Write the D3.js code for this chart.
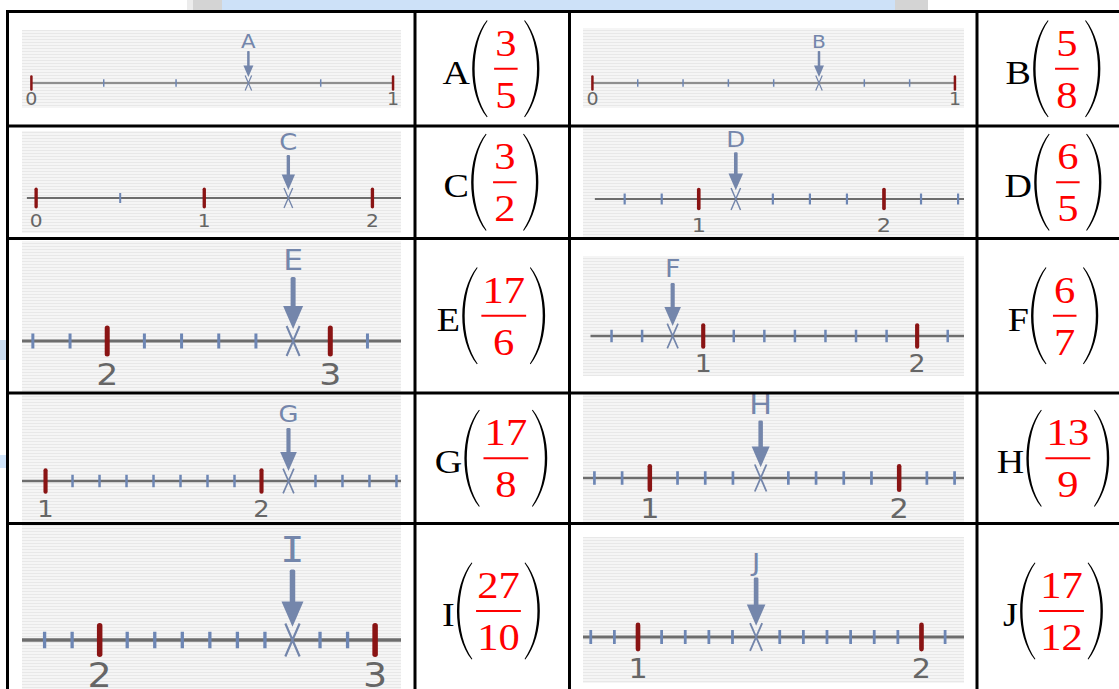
<!DOCTYPE html>
<html>
<head>
<meta charset="utf-8">
<script src="https://cdn.jsdelivr.net/npm/d3@7"></script>
<style>
  body { margin: 0; background: #fff; }
  svg { display: block; }
</style>
</head>
<body>
<div id="chart"></div>
<script>
// points to locate, as fractions
const letters = ["A", "B", "C", "D", "E", "F", "G", "H", "I", "J"];
const numerators = [3, 5, 3, 6, 17, 6, 17, 13, 27, 17];
const denominators = [5, 8, 2, 5, 6, 7, 8, 9, 10, 12];

// visible window of each number line (value at left / right edge of its picture)
const viewFrom = [-0.026, -0.026, -0.084, 0.375, 1.618, 0.438, 0.891, 0.732, 1.718, 0.806];
const viewTo = [1.022, 1.025, 2.170, 2.432, 3.317, 2.219, 2.646, 2.260, 3.094, 2.150];
// where the drawn line starts / ends
const lineFrom = [0, 0, -0.055, 0.439, 1.618, 0.473, 0.891, 0.732, 1.718, 0.806];
const lineTo = [1, 1, 2.170, 2.432, 3.317, 2.219, 2.646, 2.260, 3.094, 2.150];

// layout of each picture inside the table
const panelBox = [
  {x0: 22, x1: 401, y0: 30, y1: 108, lineY: 83, k: 0.5, fsL: 19, fsN: 17, nDy: 22},
  {x0: 583, x1: 964, y0: 28, y1: 108, lineY: 83, k: 0.5, fsL: 18, fsN: 17, nDy: 22},
  {x0: 22, x1: 401, y0: 131, y1: 233, lineY: 198, k: 0.67, fsL: 23, fsN: 18, nDy: 29},
  {x0: 583, x1: 964, y0: 127, y1: 237, lineY: 199, k: 0.73, fsL: 22, fsN: 20, nDy: 33},
  {x0: 22, x1: 401, y0: 241, y1: 392, lineY: 341, k: 1.0, fsL: 28, fsN: 31, nDy: 44},
  {x0: 583, x1: 964, y0: 256, y1: 376, lineY: 336, k: 0.83, fsL: 24, fsN: 24, nDy: 36},
  {x0: 22, x1: 401, y0: 395, y1: 522, lineY: 481, k: 0.83, fsL: 23, fsN: 23, nDy: 36},
  {x0: 583, x1: 964, y0: 394, y1: 522, lineY: 478, k: 0.9, fsL: 27, fsN: 27, nDy: 40},
  {x0: 22, x1: 401, y0: 525, y1: 689, lineY: 640, k: 1.1, fsL: 36, fsN: 34, nDy: 47},
  {x0: 583, x1: 964, y0: 537, y1: 683, lineY: 637, k: 0.93, fsL: 25, fsN: 27, nDy: 41}
];

const colLines = [7.5, 415, 569.5, 977, 1129];
const rowLines = [11.5, 126, 238.5, 393, 523.5, 698.5];
const answerCenters = [491, 1053];

const W = 1119, H = 689;
const SX = 1.12; // the scan is a little wider than tall

const svg = d3.select("#chart").append("svg")
  .attr("width", W)
  .attr("height", H);

const defs = svg.append("defs");
const pat = defs.append("pattern")
  .attr("id", "stripes")
  .attr("patternUnits", "userSpaceOnUse")
  .attr("width", 8)
  .attr("height", 3);
pat.append("rect").attr("width", 8).attr("height", 3).attr("fill", "#f5f5f5");
pat.append("rect").attr("width", 8).attr("height", 1).attr("fill", "#e8e8e8");

svg.append("rect").attr("width", W).attr("height", H).attr("fill", "#fff");

// bits of the page behind the table
svg.append("rect").attr("x", 187).attr("y", 0).attr("width", 6).attr("height", 10).attr("fill", "#ececec");
svg.append("rect").attr("x", 193).attr("y", 0).attr("width", 29).attr("height", 10).attr("fill", "#d4d4d4");
svg.append("rect").attr("x", 222).attr("y", 0).attr("width", 673).attr("height", 10).attr("fill", "#cde1f8");
svg.append("rect").attr("x", 895).attr("y", 0).attr("width", 33).attr("height", 10).attr("fill", "#d4d4d4");
svg.append("rect").attr("x", 0).attr("y", 340).attr("width", 6).attr("height", 20).attr("fill", "#c9dcf1");
svg.append("rect").attr("x", 0).attr("y", 455).attr("width", 6).attr("height", 13).attr("fill", "#d0e4fa");

const blue = "#7486ab";

letters.forEach((letter, i) => {
  const b = panelBox[i];
  const k = b.k;
  const den = denominators[i];
  const num = numerators[i];
  const x = d3.scaleLinear().domain([viewFrom[i], viewTo[i]]).range([b.x0, b.x1]);
  const ly = b.lineY;

  defs.append("clipPath").attr("id", "clip" + i)
    .append("rect")
    .attr("x", b.x0).attr("y", b.y0)
    .attr("width", b.x1 - b.x0).attr("height", b.y1 - b.y0);

  const g = svg.append("g").attr("clip-path", `url(#clip${i})`);

  g.append("rect")
    .attr("x", b.x0).attr("y", b.y0)
    .attr("width", b.x1 - b.x0).attr("height", b.y1 - b.y0)
    .attr("fill", "url(#stripes)");

  g.append("line")
    .attr("x1", x(lineFrom[i])).attr("x2", x(lineTo[i]))
    .attr("y1", ly).attr("y2", ly)
    .attr("stroke", "#6d6d6d")
    .attr("stroke-width", Math.max(1.6, 3 * k));

  const steps = d3.range(Math.ceil(lineFrom[i] * den - 1e-6), Math.floor(lineTo[i] * den + 1e-6) + 1);

  g.selectAll("line.minor")
    .data(steps.filter(j => j % den !== 0 && j !== num))
    .join("line")
    .attr("class", "minor")
    .attr("x1", j => x(j / den)).attr("x2", j => x(j / den))
    .attr("y1", ly - 7.5 * k).attr("y2", ly + 7.5 * k)
    .attr("stroke", "#6d86b4")
    .attr("stroke-width", Math.max(1.4, 3 * k));

  g.selectAll("line.major")
    .data(steps.filter(j => j % den === 0))
    .join("line")
    .attr("class", "major")
    .attr("x1", j => x(j / den)).attr("x2", j => x(j / den))
    .attr("y1", ly - 13 * k).attr("y2", ly + 13 * k)
    .attr("stroke", "#8a1414")
    .attr("stroke-linecap", "round")
    .attr("stroke-width", Math.max(2.2, 5 * k));

  const ints = d3.range(Math.ceil(viewFrom[i]), Math.floor(viewTo[i]) + 1);
  g.selectAll("text.num")
    .data(ints)
    .join("text")
    .attr("class", "num")
    .attr("transform", n => `translate(${x(n)},${ly + b.nDy}) scale(${SX},1)`)
    .attr("text-anchor", "middle")
    .attr("font-family", "DejaVu Sans, Verdana, sans-serif")
    .attr("font-size", b.fsN)
    .attr("fill", "#666")
    .text(n => n);

  // cross on the point
  const px = x(num / den);
  g.append("path")
    .attr("d", `M${px - 6.5 * k},${ly - 15 * k}L${px + 6.5 * k},${ly + 15 * k}M${px + 6.5 * k},${ly - 15 * k}L${px - 6.5 * k},${ly + 15 * k}`)
    .attr("stroke", blue)
    .attr("stroke-width", Math.max(1.2, 2 * k))
    .attr("fill", "none");

  // arrow
  g.append("rect")
    .attr("x", px - 2.5 * k).attr("y", ly - 64 * k)
    .attr("width", 5 * k).attr("height", 31 * k)
    .attr("rx", 1.5 * k)
    .attr("fill", blue);
  g.append("path")
    .attr("d", `M${px - 10 * k},${ly - 35 * k}L${px + 10 * k},${ly - 35 * k}L${px},${ly - 12 * k}Z`)
    .attr("fill", blue);

  // Verdana-style capital I has serifs, the mono face is closest to that
  g.append("text")
    .attr("transform", `translate(${px},${ly - 71 * k}) scale(${SX},1)`)
    .attr("text-anchor", "middle")
    .attr("font-family", letter === "I" ? "DejaVu Sans Mono, monospace" : "DejaVu Sans, Verdana, sans-serif")
    .attr("font-size", b.fsL)
    .attr("fill", blue)
    .text(letter);
});

// answers: letter ( num / den )
function parenPath(w, h) {
  const c1 = -w / 3, c2 = -w / 3 + 2.6;
  return `M${w},${-h / 2}C${c1},${-h / 4} ${c1},${h / 4} ${w},${h / 2}` +
    `L${w + 0.7},${h / 2 - 0.6}C${c2},${h / 4} ${c2},${-h / 4} ${w + 0.7},${-h / 2 + 0.6}Z`;
}

letters.forEach((letter, i) => {
  const r = Math.floor(i / 2);
  const barY = (rowLines[r] + rowLines[r + 1]) / 2;
  const cx = answerCenters[i % 2];
  const g = svg.append("g").attr("transform", `translate(${cx},${barY}) scale(${SX},1)`);

  const lt = g.append("text")
    .attr("font-family", "Liberation Serif, Times New Roman, serif")
    .attr("font-size", 34)
    .attr("fill", "#000")
    .attr("y", 15)
    .text(letter);
  const nt = g.append("text")
    .attr("font-family", "Liberation Serif, Times New Roman, serif")
    .attr("font-size", 38)
    .attr("fill", "#ff0000")
    .attr("text-anchor", "middle")
    .attr("y", -13)
    .text(numerators[i]);
  const dt = g.append("text")
    .attr("font-family", "Liberation Serif, Times New Roman, serif")
    .attr("font-size", 38)
    .attr("fill", "#ff0000")
    .attr("text-anchor", "middle")
    .attr("y", 39)
    .text(denominators[i]);

  const lw = lt.node().getComputedTextLength();
  const fw = Math.max(nt.node().getComputedTextLength(), dt.node().getComputedTextLength());
  const pw = 13, gap = 2;
  const inner = Math.max(fw + 10, 34);
  const total = lw + gap + pw + inner + pw;
  const x0 = -total / 2;
  const p1 = x0 + lw + gap;
  const mid = p1 + pw + inner / 2;

  lt.attr("x", x0);
  nt.attr("x", mid);
  dt.attr("x", mid);

  g.append("rect")
    .attr("x", mid - fw / 2 - 1).attr("y", -1)
    .attr("width", fw + 2).attr("height", 2)
    .attr("fill", "#ff0000");

  g.append("path")
    .attr("transform", `translate(${p1},0)`)
    .attr("d", parenPath(pw, 97))
    .attr("fill", "#000");
  g.append("path")
    .attr("transform", `translate(${p1 + pw + inner + pw},0) scale(-1,1)`)
    .attr("d", parenPath(pw, 97))
    .attr("fill", "#000");
});

// table grid
svg.selectAll("line.col")
  .data(colLines)
  .join("line")
  .attr("class", "col")
  .attr("x1", d => d).attr("x2", d => d)
  .attr("y1", rowLines[0] - 1.5).attr("y2", rowLines[rowLines.length - 1])
  .attr("stroke", "#000")
  .attr("stroke-width", 3);

svg.selectAll("line.row")
  .data(rowLines)
  .join("line")
  .attr("class", "row")
  .attr("x1", colLines[0] - 1.5).attr("x2", colLines[colLines.length - 1])
  .attr("y1", d => d).attr("y2", d => d)
  .attr("stroke", "#000")
  .attr("stroke-width", 3);
</script>
</body>
</html>
